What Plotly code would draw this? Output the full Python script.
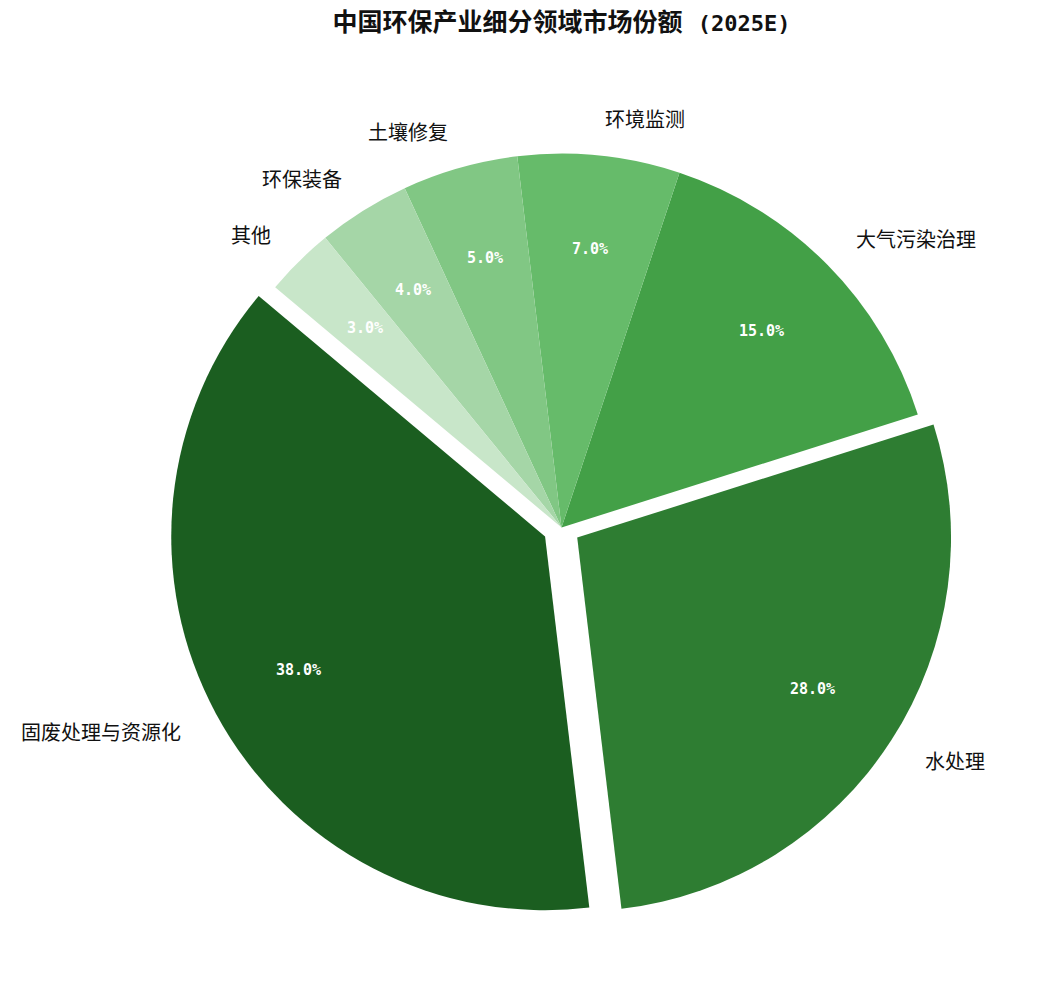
import numpy as np
import plotly.graph_objects as go

labels = ['固废处理与资源化', '水处理', '大气污染治理', '环境监测', '土壤修复', '环保装备', '其他']
shares = [38, 28, 15, 7, 5, 4, 3]
pulls = [0.05, 0.05, 0, 0, 0, 0, 0]
colors = ['#1b5e20', '#2e7d32', '#43a047', '#66bb6a', '#81c784', '#a5d6a7', '#c8e6c9']

start_angle = 140  # degrees, counterclockwise from 3 o'clock

vals = np.array(shares, dtype=float)
frac = vals / vals.sum()
# plotly measures rotation clockwise from 12 o'clock; for counterclockwise
# pies the first slice's far edge sits at `rotation`
rotation = 90 - start_angle - 360 * frac[0]

fig = go.Figure(go.Pie(
    labels=labels,
    values=shares,
    pull=pulls,
    sort=False,
    direction='counterclockwise',
    rotation=rotation,
    marker=dict(colors=colors, line=dict(width=0)),
    textinfo='none',
    hoverinfo='label+percent',
    showlegend=False,
))

# label / percentage positions (matplotlib style labeldistance / pctdistance)
max_pull = max(pulls)
rp = 0.5 / (1 + max_pull)
theta = np.deg2rad(start_angle + 360 * (np.cumsum(frac) - frac / 2))
annotations = []
for lab, f, p, th in zip(labels, frac, pulls, theta):
    cx, cy = 0.5 + p * rp * np.cos(th), 0.5 + p * rp * np.sin(th)
    lx, ly = cx + 1.1 * rp * np.cos(th), cy + 1.1 * rp * np.sin(th)
    annotations.append(dict(
        x=lx, y=ly, xref='paper', yref='paper', text=lab, showarrow=False,
        xanchor='left' if np.cos(th) > 0 else 'right', yanchor='middle',
        font=dict(family='Noto Sans CJK SC', size=20, color='#111111'),
    ))
    px_, py_ = cx + 0.75 * rp * np.cos(th), cy + 0.75 * rp * np.sin(th)
    annotations.append(dict(
        x=px_, y=py_, xref='paper', yref='paper', text=f'{f * 100:.1f}%',
        showarrow=False, xanchor='center', yanchor='middle',
        font=dict(family='DejaVu Sans Mono', size=15, color='white', weight='bold'),
    ))

fig.update_layout(
    width=1038, height=987,
    margin=dict(l=161, r=92, t=127, b=75),
    paper_bgcolor='white', plot_bgcolor='white',
    title=dict(
        text='<b>中国环保产业细分领域市场份额 <span style="font-size:22px">(2025E)</span></b>',
        x=0.5, xref='paper', xanchor='center',
        y=0.986, yref='container', yanchor='middle',
        font=dict(family='DejaVu Sans Mono, Noto Sans CJK SC', size=25, color='#111111'),
    ),
    annotations=annotations,
)

fig.write_html('out.html')
